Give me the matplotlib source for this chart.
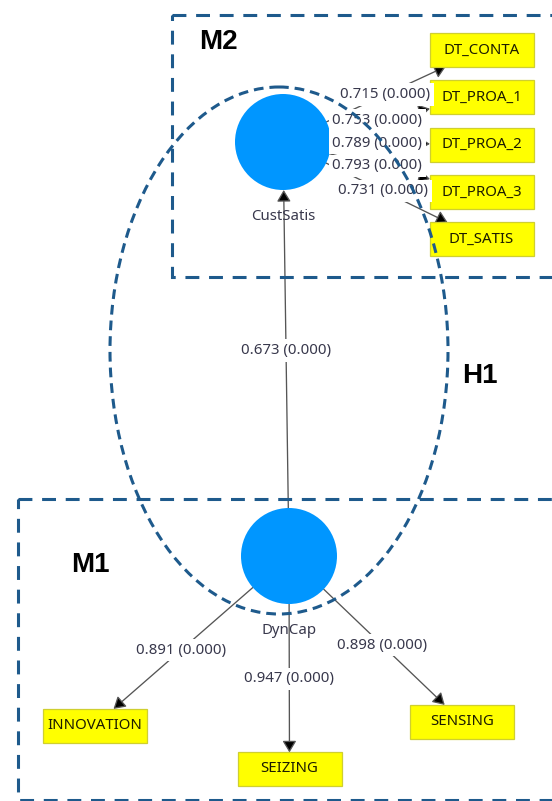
import matplotlib
matplotlib.use('Agg')
import matplotlib.pyplot as plt
from matplotlib.patches import Circle, Rectangle, Ellipse, FancyArrowPatch

plt.rcParams['lines.scale_dashes'] = False

# ---------------- data ----------------
constructs = ['CustSatis', 'DynCap']
structural_from = 'DynCap'
structural_to = 'CustSatis'
structural_coef = 0.673
structural_p = 0.000

custsatis_items = ['DT_CONTA', 'DT_PROA_1', 'DT_PROA_2', 'DT_PROA_3', 'DT_SATIS']
custsatis_loadings = [0.715, 0.753, 0.789, 0.793, 0.731]
custsatis_pvalues = [0.000, 0.000, 0.000, 0.000, 0.000]

dyncap_items = ['INNOVATION', 'SEIZING', 'SENSING']
dyncap_loadings = [0.891, 0.947, 0.898]
dyncap_pvalues = [0.000, 0.000, 0.000]

group_labels = ['M2', 'M1', 'H1']

# ---------------- layout (pixel space) ----------------
W, H = 552, 801
node_pos = {'CustSatis': (283, 142), 'DynCap': (289, 556)}
node_r = 48
item_pos = {'DT_CONTA': (481.5, 50), 'DT_PROA_1': (481.5, 97),
            'DT_PROA_2': (481.5, 144.5), 'DT_PROA_3': (481.5, 192),
            'DT_SATIS': (481.5, 239),
            'INNOVATION': (94.5, 725.5), 'SEIZING': (289.5, 769),
            'SENSING': (462, 721.5)}
item_w, item_h = 104, 34
label_frac = {'DT_CONTA': 0.515, 'DT_PROA_1': 0.475, 'DT_PROA_2': 0.475,
              'DT_PROA_3': 0.475, 'DT_SATIS': 0.505,
              'INNOVATION': 0.555, 'SEIZING': 0.577, 'SENSING': 0.538}
group_text_pos = {'M2': (218, 42), 'M1': (90, 565), 'H1': (480, 376)}

# ---------------- styles ----------------
DASH_C = '#1E5A8C'
NODE_C = '#0096FF'
LINE_C = '#555555'
LBL_C = '#38384c'
FONT = ['Noto Sans', 'DejaVu Sans']
FS = 10.8

fig = plt.figure(figsize=(W / 100, H / 100), dpi=100)
ax = fig.add_axes([0, 0, 1, 1])
ax.set_xlim(0, W)
ax.set_ylim(H, 0)
ax.axis('off')

# constructs
circles = {}
for name in constructs:
    c = Circle(node_pos[name], node_r, fc=NODE_C, ec='none', zorder=2)
    ax.add_patch(c)
    circles[name] = c
    x, y = node_pos[name]
    ax.text(x, y + node_r + 26, name, ha='center', va='center', fontsize=FS,
            family=FONT, color=LBL_C, zorder=3)

# indicators
rects = {}
for name in custsatis_items + dyncap_items:
    x, y = item_pos[name]
    r = Rectangle((x - item_w / 2, y - item_h / 2), item_w, item_h,
                  fc='#FFFF00', ec='#CFCF30', lw=0.9, zorder=2)
    ax.add_patch(r)
    rects[name] = r
    ax.text(x, y, name, ha='center', va='center', fontsize=FS, family=FONT,
            color='#1c1c00', zorder=3)


def label(x, y, s):
    ax.text(x, y, s, ha='center', va='center', fontsize=FS, family=FONT,
            color=LBL_C, zorder=3,
            bbox=dict(boxstyle='square,pad=0.25', fc='white', ec='none'))


def arrow(pa, pb, patchA, patchB):
    a = FancyArrowPatch(pa, pb, patchA=patchA, patchB=patchB, shrinkA=0, shrinkB=0,
                        arrowstyle='-|>,head_length=7,head_width=4.2',
                        ec=LINE_C, fc='black', lw=0.95, zorder=1)
    ax.add_patch(a)


# structural path
pa, pb = node_pos[structural_from], node_pos[structural_to]
arrow(pa, pb, circles[structural_from], circles[structural_to])
label((pa[0] + pb[0]) / 2, (pa[1] + pb[1]) / 2 + 1.5,
      f'{structural_coef:.3f} ({structural_p:.3f})')

# outer loadings
for cons, items, loads, pvals in [('CustSatis', custsatis_items, custsatis_loadings, custsatis_pvalues),
                                  ('DynCap', dyncap_items, dyncap_loadings, dyncap_pvalues)]:
    cx, cy = node_pos[cons]
    for it, l, p in zip(items, loads, pvals):
        ix, iy = item_pos[it]
        arrow((cx, cy), (ix, iy), circles[cons], rects[it])
        t = label_frac[it]
        label(cx + t * (ix - cx), cy + t * (iy - cy), f'{l:.3f} ({p:.3f})')

# dashed groupings
ax.add_patch(Rectangle((172, 15), 420, 262, fill=False, ec=DASH_C, lw=2.2,
                       ls=(0, (10, 7)), zorder=4))
ax.add_patch(Rectangle((18, 499), 580, 301, fill=False, ec=DASH_C, lw=2.2,
                       ls=(0, (10, 7)), zorder=4))
ax.add_patch(Ellipse((279, 350.5), 338, 527, fill=False, ec=DASH_C, lw=2.2,
                     ls=(0, (7, 4.3)), zorder=4))

for g in group_labels:
    x, y = group_text_pos[g]
    ax.text(x, y, g, ha='center', va='center', fontsize=20, fontweight='bold',
            family=['Liberation Sans', 'DejaVu Sans'], color='black', zorder=5)

fig.savefig('out.png', dpi=100)
